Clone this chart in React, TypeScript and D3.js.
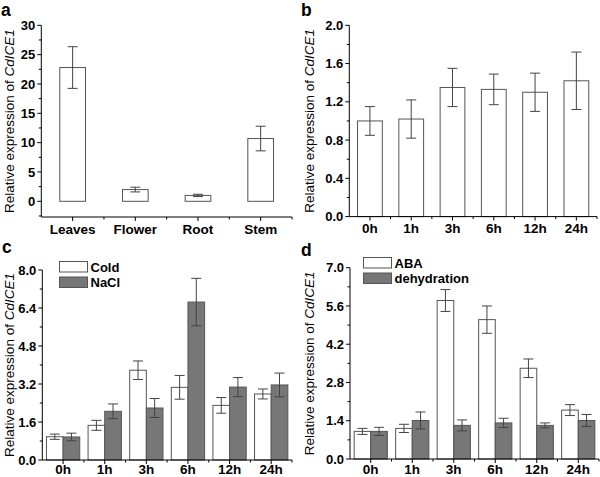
import React from "react";
import * as d3 from "d3";

// panel a: tissues
const tissues = ["Leaves", "Flower", "Root", "Stem"];
const tissueMean = [22.8, 2.0, 1.0, 10.7];
const tissueErr = [3.55, 0.4, 0.2, 2.1];

// time points shared by b, c, d
const times = ["0h", "1h", "3h", "6h", "12h", "24h"];

// panel b
const bMean = [1.0, 1.02, 1.35, 1.33, 1.3, 1.42];
const bErr = [0.15, 0.2, 0.2, 0.16, 0.2, 0.3];

// panel c
const coldMean = [0.98, 1.46, 3.78, 3.06, 2.3, 2.78];
const coldErr = [0.11, 0.21, 0.39, 0.5, 0.33, 0.21];
const naclMean = [0.97, 2.05, 2.19, 6.65, 3.07, 3.16];
const naclErr = [0.16, 0.31, 0.4, 1.0, 0.4, 0.5];

// panel d
const abaMean = [1.01, 1.12, 5.8, 5.1, 3.32, 1.79];
const abaErr = [0.11, 0.15, 0.4, 0.5, 0.34, 0.2];
const dehyMean = [1.01, 1.41, 1.23, 1.32, 1.23, 1.41];
const dehyErr = [0.15, 0.31, 0.2, 0.17, 0.09, 0.22];

const yTicksA = [0, 5, 10, 15, 20, 25, 30];
const yTicksB = [0, 0.4, 0.8, 1.2, 1.6, 2.0];
const yTicksC = [0, 1.6, 3.2, 4.8, 6.4, 8.0];
const yTicksD = [0, 1.4, 2.8, 4.2, 5.6, 7.0];

const FONT = "'Liberation Sans', Arial, sans-serif";
const GRAY = "#777";
const EDGE = "#555";
const ERR = "#444";

type Series = { name: string; mean: number[]; err: number[]; fill: string };

type PanelProps = {
  letter: string;
  letterPos: [number, number];
  cats: string[];
  series: Series[];
  ticks: number[];
  fmt: (v: number) => string;
  yMin: number;
  x0: number;
  x1: number;
  yTopPx: number;
  yZeroPx: number;
  axisBottom: number;
  labelOffset: number;
  barFrac: number;
  titleX: number;
  legend?: { x: number; y: number };
};

function Panel(p: PanelProps) {
  const top = p.ticks[p.ticks.length - 1];
  const y = d3.scaleLinear().domain([0, top]).range([p.yZeroPx, p.yTopPx]);
  const x = d3.scaleBand<string>().domain(p.cats).range([p.x0, p.x1]).padding(0);
  const bw = x.bandwidth();
  const groupW = bw * p.barFrac;
  const barW = groupW / p.series.length;
  const step = p.ticks[1] - p.ticks[0];
  const minor = p.ticks.slice(0, -1).map((t) => t + step / 2);
  if (p.yMin < 0 && -step / 2 >= p.yMin) minor.unshift(-step / 2);
  const cap = Math.min(5, barW * 0.3);
  const titleY = (p.yTopPx + p.axisBottom) / 2;

  return (
    <g>
      <text x={p.letterPos[0]} y={p.letterPos[1]} fontFamily={FONT} fontWeight="bold" fontSize={17.5}>
        {p.letter}
      </text>
      {/* bars */}
      {p.series.map((s, si) =>
        p.cats.map((c, i) => {
          const left = (x(c) as number) + (bw - groupW) / 2 + si * barW;
          const cx = left + barW / 2;
          const v = s.mean[i];
          return (
            <g key={s.name + c}>
              <rect
                x={left}
                y={y(v)}
                width={barW}
                height={y(0) - y(v)}
                fill={s.fill}
                stroke={EDGE}
                strokeWidth={1}
              />
              <line x1={cx} x2={cx} y1={y(v + s.err[i])} y2={y(v - s.err[i])} stroke={ERR} strokeWidth={1} />
              <line x1={cx - cap} x2={cx + cap} y1={y(v + s.err[i])} y2={y(v + s.err[i])} stroke={ERR} strokeWidth={1} />
              <line x1={cx - cap} x2={cx + cap} y1={y(v - s.err[i])} y2={y(v - s.err[i])} stroke={ERR} strokeWidth={1} />
            </g>
          );
        })
      )}
      {/* y axis */}
      <line x1={p.x0} x2={p.x0} y1={p.yTopPx} y2={p.axisBottom} stroke="#000" strokeWidth={1} />
      {p.ticks.map((t) => (
        <g key={"yt" + t}>
          <line x1={p.x0 - 4} x2={p.x0} y1={y(t)} y2={y(t)} stroke="#000" />
          <text
            x={p.x0 - 6}
            y={y(t)}
            dy="0.35em"
            textAnchor="end"
            fontFamily={FONT}
            fontWeight="bold"
            fontSize={13}
          >
            {p.fmt(t)}
          </text>
        </g>
      ))}
      {minor.map((t) => (
        <line key={"ym" + t} x1={p.x0 - 2.5} x2={p.x0} y1={y(t)} y2={y(t)} stroke="#000" />
      ))}
      {/* x axis */}
      <line x1={p.x0} x2={p.x1} y1={p.axisBottom} y2={p.axisBottom} stroke="#000" strokeWidth={1} />
      {p.cats.map((c) => {
        const cx = (x(c) as number) + bw / 2;
        return (
          <g key={"xt" + c}>
            <line x1={cx} x2={cx} y1={p.axisBottom} y2={p.axisBottom + 4} stroke="#000" />
            <line
              x1={(x(c) as number) + bw}
              x2={(x(c) as number) + bw}
              y1={p.axisBottom}
              y2={p.axisBottom + 2.5}
              stroke="#000"
            />
            <text
              x={cx}
              y={p.axisBottom + p.labelOffset}
              textAnchor="middle"
              fontFamily={FONT}
              fontWeight="bold"
              fontSize={13.5}
            >
              {c}
            </text>
          </g>
        );
      })}
      {/* y title */}
      <text
        transform={`translate(${p.titleX},${titleY}) rotate(-90)`}
        textAnchor="middle"
        dy="0.35em"
        fontFamily={FONT}
        fontSize={13.5}
      >
        Relative expression of <tspan fontStyle="italic">CdICE1</tspan>
      </text>
      {/* legend */}
      {p.legend &&
        p.series.map((s, si) => (
          <g key={"lg" + s.name}>
            <rect
              x={p.legend!.x}
              y={p.legend!.y + si * 15.5}
              width={28}
              height={10.5}
              fill={s.fill}
              stroke={EDGE}
            />
            <text
              x={p.legend!.x + 31}
              y={p.legend!.y + si * 15.5 + 5.5}
              dy="0.35em"
              fontFamily={FONT}
              fontWeight="bold"
              fontSize={13}
            >
              {s.name}
            </text>
          </g>
        ))}
    </g>
  );
}

export default function App() {
  const f1 = (v: number) => v.toFixed(1);
  const f0 = (v: number) => String(v);
  return (
    <svg width={600} height={477} style={{ position: "absolute", left: 0, top: 0, background: "#fff" }}>
      <rect width={600} height={477} fill="#fff" />
      <Panel
        letter="a"
        letterPos={[1, 16]}
        cats={tissues}
        series={[{ name: "tissue", mean: tissueMean, err: tissueErr, fill: "#fff" }]}
        ticks={yTicksA}
        fmt={f0}
        yMin={-2.7}
        x0={41.3}
        x1={292}
        yTopPx={25.3}
        yZeroPx={201.3}
        axisBottom={217}
        labelOffset={16.5}
        barFrac={0.41}
        titleX={9.5}
      />
      <Panel
        letter="b"
        letterPos={[301, 16]}
        cats={times}
        series={[{ name: "time", mean: bMean, err: bErr, fill: "#fff" }]}
        ticks={yTicksB}
        fmt={f1}
        yMin={0}
        x0={349.3}
        x1={597}
        yTopPx={25.3}
        yZeroPx={216.6}
        axisBottom={216.6}
        labelOffset={16.5}
        barFrac={0.6}
        titleX={309.5}
      />
      <Panel
        letter="c"
        letterPos={[2, 253]}
        cats={times}
        series={[
          { name: "Cold", mean: coldMean, err: coldErr, fill: "#fff" },
          { name: "NaCl", mean: naclMean, err: naclErr, fill: GRAY },
        ]}
        ticks={yTicksC}
        fmt={f1}
        yMin={0}
        x0={42.3}
        x1={292}
        yTopPx={270}
        yZeroPx={460}
        axisBottom={460}
        labelOffset={14}
        barFrac={0.8}
        titleX={9.5}
        legend={{ x: 59.5, y: 261.5 }}
      />
      <Panel
        letter="d"
        letterPos={[301, 256]}
        cats={times}
        series={[
          { name: "ABA", mean: abaMean, err: abaErr, fill: "#fff" },
          { name: "dehydration", mean: dehyMean, err: dehyErr, fill: GRAY },
        ]}
        ticks={yTicksD}
        fmt={f1}
        yMin={0}
        x0={350}
        x1={599}
        yTopPx={267.7}
        yZeroPx={459}
        axisBottom={459}
        labelOffset={14.5}
        barFrac={0.8}
        titleX={309.5}
        legend={{ x: 363.5, y: 257.5 }}
      />
    </svg>
  );
}
